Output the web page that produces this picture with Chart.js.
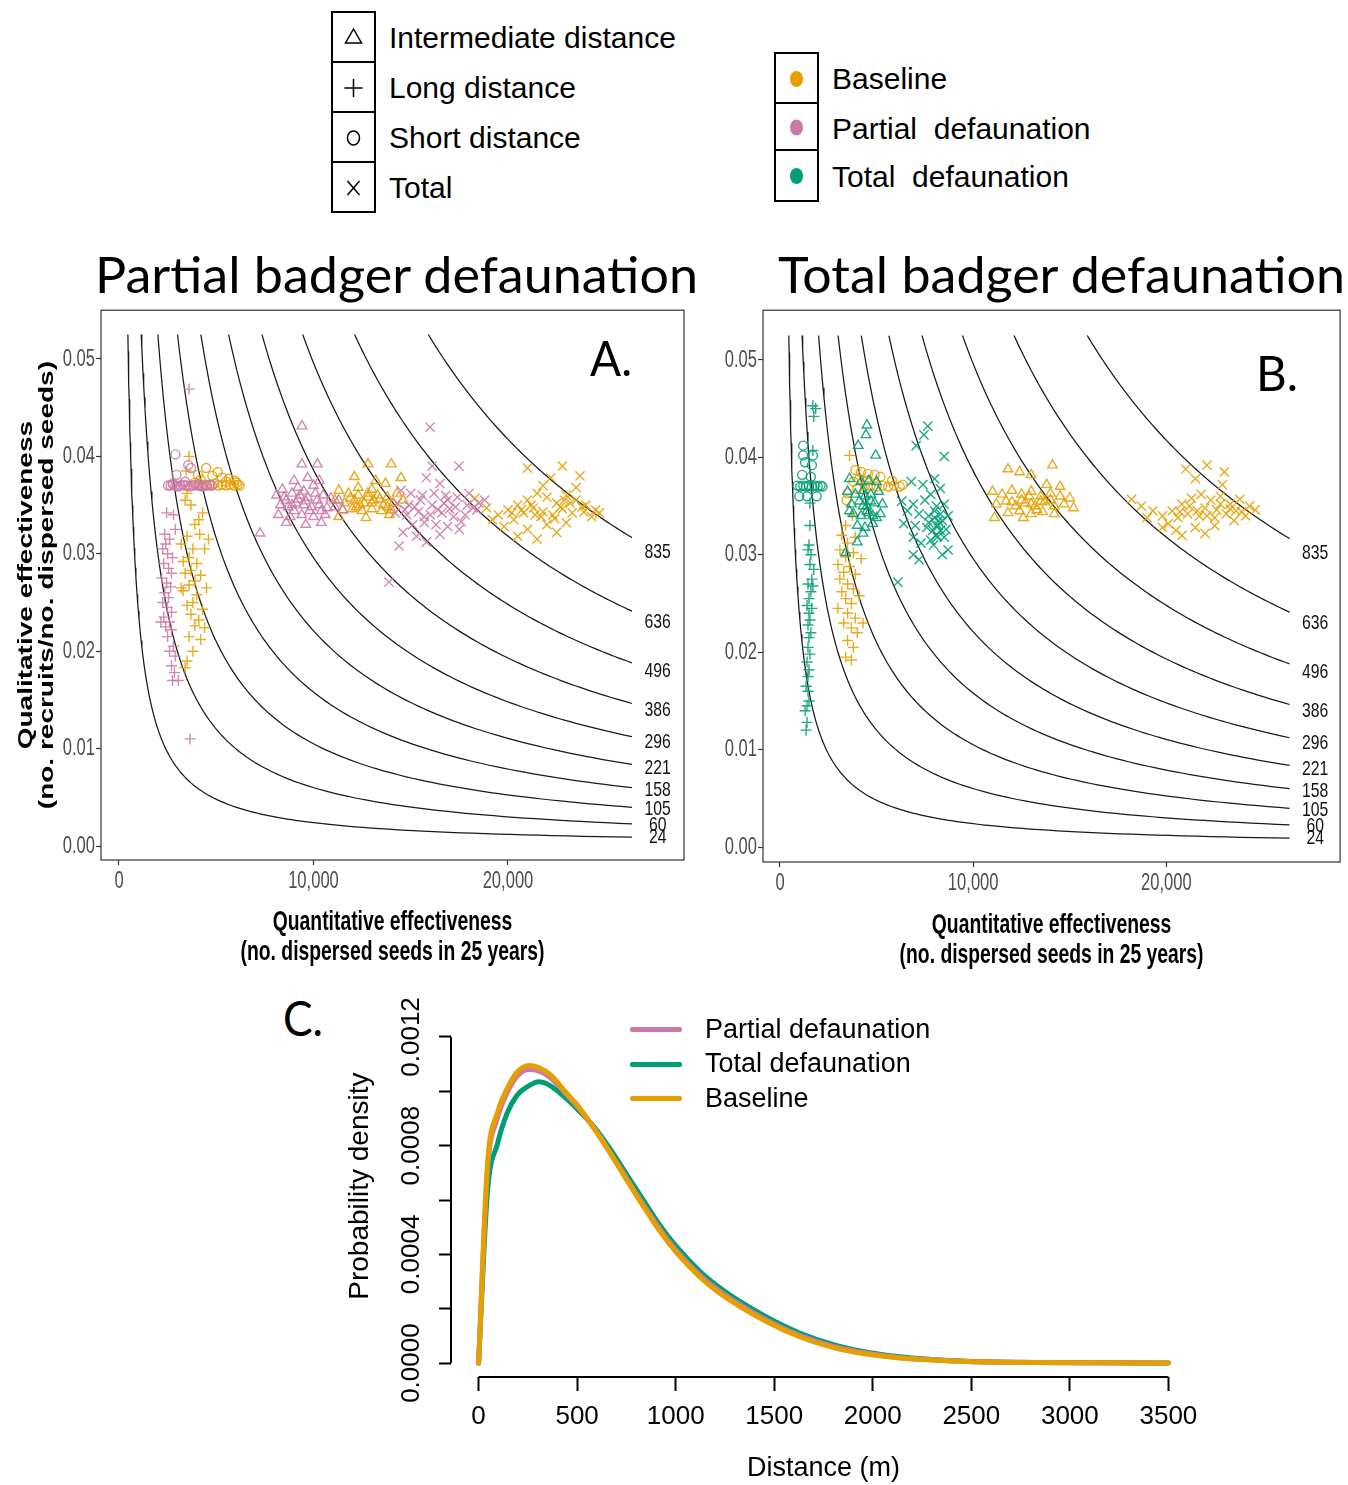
<!DOCTYPE html>
<html>
<head>
<meta charset="utf-8">
<title>Seed dispersal effectiveness under badger defaunation</title>
<script src="https://cdn.jsdelivr.net/npm/chart.js@4.4.1/dist/chart.umd.min.js"></script>
<style>
  html, body { margin: 0; padding: 0; background: #fff; }
  body { width: 1348px; height: 1485px; position: relative; overflow: hidden; font-family: "Liberation Sans", Arial, sans-serif; }
  canvas { position: absolute; }
  .cell { position: absolute; box-sizing: border-box; border: 2px solid #000; width: 45px; z-index: 2; }
  .cell svg { position: absolute; left: 0; top: 0; }
  .txt { position: absolute; white-space: pre; z-index: 2; color: #000; }
  .fit { position: absolute; white-space: pre; z-index: 2; color: #000; font-family: Lato, "Open Sans", sans-serif; display: inline-block; transform-origin: 0 0; line-height: 1; }
  .sw { position: absolute; height: 5px; width: 52px; border-radius: 2px; z-index: 2; }
</style>
</head>
<body>

<!-- distance-class legend -->
<div class="cell" style="left:331px;top:11px;height:52px;"><svg width="41" height="48"><polygon points="20.5,16 28.5,30 12.5,30" fill="none" stroke="#000" stroke-width="1.5"/></svg></div>
<div class="cell" style="left:331px;top:61px;height:52px;"><svg width="41" height="48"><path d="M20.5 16 V34 M11.5 25 H29.5" stroke="#000" stroke-width="1.5"/></svg></div>
<div class="cell" style="left:331px;top:111px;height:52px;"><svg width="41" height="48"><ellipse cx="20.5" cy="25" rx="6" ry="7" fill="none" stroke="#000" stroke-width="1.5"/></svg></div>
<div class="cell" style="left:331px;top:161px;height:52px;"><svg width="41" height="48"><path d="M14.5 18 L26.5 32 M26.5 18 L14.5 32" stroke="#000" stroke-width="1.5"/></svg></div>
<div class="txt" style="left:389px;top:23px;font-size:30px;line-height:30px;">Intermediate distance</div>
<div class="txt" style="left:389px;top:73px;font-size:30px;line-height:30px;">Long distance</div>
<div class="txt" style="left:389px;top:123px;font-size:30px;line-height:30px;">Short distance</div>
<div class="txt" style="left:389px;top:173px;font-size:30px;line-height:30px;">Total</div>

<!-- scenario legend -->
<div class="cell" style="left:774px;top:52px;height:52px;"><svg width="41" height="48"><ellipse cx="20.5" cy="25" rx="6.5" ry="8" fill="#E69F00"/></svg></div>
<div class="cell" style="left:774px;top:102px;height:49px;"><svg width="41" height="45"><ellipse cx="20.5" cy="23.5" rx="6.5" ry="8" fill="#CC79A7"/></svg></div>
<div class="cell" style="left:774px;top:149px;height:53px;"><svg width="41" height="49"><ellipse cx="20.5" cy="25" rx="6.5" ry="8" fill="#009E73"/></svg></div>
<div class="txt" style="left:832px;top:64px;font-size:30px;line-height:30px;">Baseline</div>
<div class="txt" style="left:832px;top:114px;font-size:30px;line-height:30px;">Partial  defaunation</div>
<div class="txt" style="left:832px;top:162px;font-size:30px;line-height:30px;">Total  defaunation</div>

<!-- panel headings and letters -->
<div class="fit" data-w="603" style="left:95px;top:248px;font-size:51px;">Partial badger defaunation</div>
<div class="fit" data-w="567" style="left:778px;top:248px;font-size:51px;">Total badger defaunation</div>
<div class="fit" data-w="42" style="left:590px;top:334px;font-size:48px;">A.</div>
<div class="fit" data-w="42" style="left:1256px;top:349px;font-size:48px;">B.</div>
<div class="fit" data-w="40" style="left:283px;top:994px;font-size:48px;">C.</div>

<!-- density legend -->
<div class="sw" style="left:630px;top:1027px;background:#CC79A7;"></div>
<div class="sw" style="left:630px;top:1062px;background:#009E73;"></div>
<div class="sw" style="left:630px;top:1096px;background:#E69F00;"></div>
<div class="txt" style="left:705px;top:1016px;font-size:27px;line-height:27px;">Partial defaunation</div>
<div class="txt" style="left:705px;top:1050px;font-size:27px;line-height:27px;">Total defaunation</div>
<div class="txt" style="left:705px;top:1085px;font-size:27px;line-height:27px;">Baseline</div>

<canvas id="panelA" width="700" height="680" style="left:0px;top:300px;"></canvas>
<canvas id="panelB" width="648" height="680" style="left:700px;top:300px;"></canvas>
<canvas id="panelC" width="880" height="500" style="left:340px;top:985px;"></canvas>

<script>
// ---------- iso-effectiveness contours (quantity x quality = constant) ----------
const ISO_LEVELS = [24, 60, 105, 158, 221, 296, 386, 496, 636, 835];
const ISO_TOP_Y = 0.0525;     // contours start at this quality value
const ISO_END_X = 26375;      // and stop at this quantity value
const ISO_LABEL_X = 27700;    // labels sit on the contour, just past its end

// ---------- axis ticks and titles ----------
const SDE_X_TICKS = [0, 10000, 20000];
const SDE_Y_TICKS = [0, 0.01, 0.02, 0.03, 0.04, 0.05];
const SDE_X_TITLE = ['Quantitative effectiveness', '(no. dispersed seeds in 25 years)'];
const SDE_Y_TITLE = ['Qualitative effectiveness', '(no. recruits/no. dispersed seeds)'];
const C_X_TICKS = [0, 500, 1000, 1500, 2000, 2500, 3000, 3500];
const C_Y_TICKS = [0, 0.0002, 0.0004, 0.0006, 0.0008, 0.001, 0.0012];
const C_Y_LABELS = [0, 0.0004, 0.0008, 0.0012];

// ---------- panel A: partial badger defaunation, [seeds dispersed, recruits per seed] ----------
const A_PART_SHORT = [[2520,.0370],[2650,.0370],[2780,.0371],[2900,.0370],[3020,.0369],[3150,.0370],[3280,.0371],[3400,.0370],[3520,.0370],[3650,.0369],[3780,.0370],[3900,.0371],[4020,.0370],[4150,.0370],[4280,.0369],[4400,.0370],[4520,.0370],[4650,.0371],[4780,.0370],[2900,.0402],[2960,.0381],[3560,.0391],[3700,.0388],[3400,.0374],[2760,.0372]];
const A_PART_LONG = [[2450,.0342],[2800,.0340],[2350,.0320],[2600,.0315],[2250,.0305],[2500,.0300],[2750,.0296],[2300,.0290],[2550,.0285],[2700,.0280],[2200,.0275],[2450,.0270],[2650,.0266],[2350,.0260],[2550,.0255],[2250,.0250],[2480,.0245],[2700,.0240],[2300,.0235],[2600,.0230],[2150,.0230],[2400,.0225],[2700,.0222],[2500,.0215],[2800,.0205],[2600,.0200],[2900,.0195],[2700,.0185],[2850,.0178],[2750,.0170],[3050,.0170],[3600,.0469],[3650,.0110],[2900,.0325],[2400,.0310]];
const A_PART_INTER = [[9410,.0431],[7250,.0321],[10200,.0392],[9400,.0392],[9000,.0375],[9700,.0378],[10300,.0375],[8100,.0360],[8500,.0358],[8900,.0362],[9300,.0360],[9700,.0358],[10100,.0362],[10500,.0360],[10900,.0357],[11300,.0355],[8300,.0350],[8700,.0348],[9100,.0352],[9500,.0350],[9900,.0348],[10300,.0350],[10700,.0347],[11100,.0348],[8200,.0340],[8800,.0338],[9400,.0340],[10000,.0338],[10600,.0340],[11500,.0345],[8600,.0332],[9600,.0330],[10400,.0332],[9200,.0368],[10000,.0370],[8400,.0366],[9800,.0344],[9000,.0344],[9200,.0356],[9600,.0354],[10200,.0355],[8900,.0350],[9500,.0364],[10400,.0344],[8600,.0355]];
const A_PART_TOTAL = [[15990,.0430],[13880,.0271],[17480,.0390],[16100,.0390],[15800,.0378],[16500,.0372],[14500,.0365],[15000,.0362],[15600,.0360],[16200,.0362],[16800,.0360],[17400,.0358],[18000,.0362],[14300,.0352],[14900,.0350],[15500,.0355],[16100,.0350],[16700,.0352],[17300,.0348],[17900,.0350],[18500,.0352],[14200,.0342],[14800,.0340],[15400,.0343],[16000,.0340],[16600,.0342],[17200,.0338],[17800,.0340],[18400,.0345],[15100,.0330],[15700,.0332],[16300,.0330],[16900,.0328],[14600,.0322],[15300,.0318],[16500,.0320],[17500,.0325],[15800,.0312],[14400,.0308],[18800,.0355],[15200,.0348],[16400,.0345],[17000,.0346],[15700,.0338],[16900,.0355],[17600,.0333],[18200,.0347],[14700,.0345]];
const A_BASE_SHORT = [[4100,.0372],[4300,.0370],[4500,.0371],[4700,.0370],[4900,.0372],[5100,.0370],[5300,.0371],[5500,.0370],[5700,.0371],[5900,.0370],[6100,.0371],[6200,.0370],[4480,.0388],[4060,.0381],[5080,.0384],[5650,.0377],[4800,.0380],[5300,.0378],[4200,.0376],[5950,.0375],[5500,.0374],[3900,.0373],[6050,.0373]];
const A_BASE_LONG = [[3600,.0400],[3450,.0385],[3500,.0362],[3400,.0355],[3700,.0350],[4300,.0342],[4100,.0335],[3900,.0330],[4600,.0315],[3500,.0318],[3200,.0310],[3800,.0305],[4400,.0305],[3600,.0296],[3300,.0292],[4000,.0290],[3700,.0283],[3400,.0280],[4200,.0278],[3900,.0272],[3600,.0268],[4500,.0265],[3300,.0262],[4000,.0258],[3800,.0250],[3500,.0247],[4300,.0243],[3700,.0238],[4100,.0232],[3900,.0226],[4400,.0224],[3600,.0215],[4200,.0212],[3800,.0200],[3500,.0190],[3400,.0183],[3200,.0265],[4150,.0320]];
const A_BASE_INTER = [[14000,.0392],[12800,.0392],[12100,.0379],[14500,.0378],[13200,.0375],[13700,.0372],[11300,.0365],[11800,.0362],[12300,.0360],[12800,.0362],[13300,.0360],[13800,.0358],[14300,.0362],[11100,.0355],[11600,.0352],[12100,.0355],[12600,.0352],[13100,.0355],[13600,.0350],[14100,.0352],[14600,.0355],[11500,.0345],[12000,.0346],[12500,.0344],[13000,.0346],[13500,.0344],[14000,.0345],[11300,.0338],[12700,.0337],[13900,.0340],[12300,.0368],[13000,.0366],[12400,.0350],[13000,.0352],[13400,.0356],[12200,.0348],[12800,.0358],[13800,.0348],[11900,.0357]];
const A_BASE_TOTAL = [[22800,.0390],[21000,.0388],[23700,.0380],[22200,.0378],[18300,.0357],[18900,.0347],[19500,.0340],[20000,.0345],[20500,.0350],[21000,.0355],[21500,.0362],[22000,.0358],[22500,.0352],[23000,.0360],[23500,.0355],[24000,.0350],[24500,.0345],[20300,.0335],[20800,.0342],[21300,.0347],[21800,.0343],[22300,.0340],[22800,.0346],[23300,.0342],[23800,.0348],[24300,.0338],[19800,.0328],[21000,.0325],[22000,.0330],[23000,.0332],[20500,.0318],[22500,.0322],[21500,.0315],[24700,.0342],[23500,.0368],[21800,.0370],[19200,.0335],[21200,.0350],[22700,.0348],[23200,.0352],[21700,.0338],[20700,.0345],[22400,.0336],[23900,.0343],[21400,.0340],[22900,.0355],[20200,.0342]];

// ---------- panel B: total badger defaunation ----------
const B_TOT_SHORT = [[900,.0371],[1050,.0370],[1200,.0371],[1350,.0370],[1500,.0371],[1650,.0370],[1800,.0371],[1950,.0370],[2100,.0371],[2200,.0370],[1200,.0412],[1200,.0402],[1650,.0392],[1300,.0395],[1700,.0402],[1000,.0360],[1400,.0360],[1900,.0360],[1600,.0380],[1150,.0382]];
const B_TOT_LONG = [[1700,.0453],[1850,.0450],[1750,.0442],[1700,.0407],[1550,.0353],[1550,.0330],[1500,.0310],[1450,.0305],[1600,.0300],[1550,.0290],[1750,.0285],[1650,.0275],[1450,.0270],[1600,.0262],[1500,.0255],[1400,.0248],[1650,.0245],[1500,.0240],[1550,.0233],[1450,.0228],[1600,.0220],[1500,.0215],[1450,.0205],[1550,.0198],[1400,.0190],[1500,.0182],[1450,.0175],[1350,.0165],[1450,.0160],[1500,.0150],[1400,.0145],[1300,.0140],[1350,.0120],[1400,.0128],[1700,.0268]];
const B_TOT_INTER = [[4500,.0433],[4450,.0423],[4050,.0412],[4950,.0402],[3600,.0378],[4200,.0375],[4600,.0376],[5000,.0375],[3500,.0365],[3900,.0362],[4300,.0366],[4700,.0362],[5100,.0365],[3700,.0352],[4100,.0355],[4500,.0350],[4900,.0353],[5300,.0352],[3800,.0342],[4200,.0340],[4600,.0343],[5000,.0338],[4000,.0330],[4400,.0328],[4800,.0332],[4300,.0322],[4000,.0313],[3400,.0302],[3600,.0345],[5200,.0342],[4400,.0360],[4700,.0355],[4500,.0345],[4300,.0350],[4800,.0340]];
const B_TOT_TOTAL = [[7650,.0432],[7450,.0423],[7050,.0412],[8500,.0401],[6800,.0375],[7400,.0372],[8000,.0378],[8300,.0368],[6300,.0355],[6900,.0352],[7500,.0356],[7800,.0362],[8100,.0350],[8500,.0352],[6600,.0345],[7200,.0342],[7700,.0340],[8000,.0338],[8300,.0342],[8700,.0340],[6400,.0332],[7000,.0330],[7600,.0328],[7900,.0325],[8200,.0330],[8600,.0326],[6900,.0318],[7300,.0312],[7800,.0315],[8100,.0320],[8500,.0318],[8700,.0305],[6900,.0300],[7200,.0295],[8400,.0300],[6100,.0272],[8200,.0335],[7950,.0310],[8100,.0330],[8300,.0325],[8000,.0345],[7700,.0333],[8400,.0335],[8150,.0318]];
const B_BASE_SHORT = [[3900,.0387],[4200,.0385],[4550,.0383],[4900,.0382],[5200,.0380],[4100,.0378],[4500,.0376],[3800,.0375],[4400,.0371],[4700,.0371],[5000,.0370],[5300,.0371],[5600,.0370],[5900,.0371],[6200,.0370],[6350,.0372],[3500,.0363],[3450,.0356],[4000,.0368],[5800,.0376]];
const B_BASE_LONG = [[3600,.0402],[3400,.0330],[3750,.0340],[3200,.0320],[3900,.0318],[3500,.0312],[3100,.0305],[3800,.0302],[3400,.0298],[4200,.0296],[3000,.0290],[3600,.0288],[3300,.0282],[3900,.0280],[3100,.0275],[3500,.0270],[3800,.0265],[3200,.0262],[4100,.0258],[3400,.0255],[3700,.0250],[3000,.0245],[3500,.0240],[3900,.0235],[3300,.0230],[3700,.0225],[4000,.0220],[3500,.0212],[3800,.0205],[3400,.0195],[3700,.0192],[4300,.0230]];
const B_BASE_INTER = [[14100,.0392],[12400,.0385],[11800,.0388],[13000,.0382],[11000,.0365],[11500,.0362],[12000,.0366],[12500,.0362],[13000,.0365],[13500,.0360],[14000,.0363],[14500,.0360],[15000,.0358],[11200,.0352],[11700,.0355],[12200,.0350],[12700,.0353],[13200,.0350],[13700,.0354],[14200,.0350],[14700,.0352],[15200,.0348],[11800,.0343],[12400,.0345],[13000,.0342],[13600,.0344],[14200,.0342],[11100,.0338],[12600,.0338],[14500,.0370],[13800,.0372],[12500,.0356],[13000,.0352],[13500,.0355],[12900,.0360],[13300,.0346],[12000,.0354],[14000,.0356]];
const B_BASE_TOTAL = [[22100,.0392],[21000,.0388],[23000,.0385],[21500,.0378],[18200,.0357],[18700,.0350],[19300,.0345],[19800,.0340],[20300,.0345],[20800,.0352],[21300,.0358],[21800,.0362],[22300,.0356],[22800,.0360],[23300,.0352],[23800,.0357],[24300,.0350],[20100,.0332],[20600,.0338],[21100,.0342],[21600,.0345],[22100,.0340],[22600,.0346],[23100,.0342],[23600,.0345],[24100,.0340],[24600,.0346],[19800,.0328],[20500,.0325],[21500,.0328],[22500,.0330],[23500,.0335],[20800,.0320],[22000,.0322],[19000,.0338],[22900,.0372],[21200,.0350],[22000,.0348],[22800,.0352],[21700,.0340],[23300,.0347],[20700,.0344],[22500,.0338],[23900,.0344]];

// ---------- panel C: dispersal distance kernels ----------
const C_DIST = [0,45,95,145,195,255,305,365,450,500,585,670,755,840,925,1000,1125,1200,1295,1465,1635,1800,1970,2140,2300,2480,2815,3150,3500];
const C_BASELINE = [0,0.00073,0.00092,0.00101,0.00107,0.001095,0.001087,0.00106,0.00099,0.00095,0.000864,0.00077,0.00067,0.000572,0.00048,0.00041,0.000315,0.00027,0.0002225,0.000151,0.000095,0.000057,0.0000332,0.0000188,0.000011,0.0000055,0.000002,0.0000008,0.0000003];
const C_PARTIAL = [0,0.00071,0.0009,0.000995,0.001055,0.00108,0.001075,0.00105,0.000985,0.000945,0.000866,0.000772,0.000675,0.000578,0.000487,0.000417,0.000322,0.000277,0.000229,0.000157,0.0001,0.000061,0.000036,0.00002,0.000012,0.000006,0.0000022,0.0000009,0.0000003];
const C_TOTAL = [0,0.00063,0.000805,0.00092,0.000985,0.00102,0.001035,0.00102,0.00097,0.000935,0.00087,0.000785,0.00069,0.000595,0.000502,0.000432,0.000336,0.00029,0.000241,0.000168,0.000109,0.000068,0.00004,0.000023,0.000013,0.0000068,0.0000025,0.000001,0.0000004];

// ---------- styling ----------
const ORANGE = 'rgba(230,159,0,0.88)';
const PINK = 'rgba(204,121,167,0.88)';
const GREEN = 'rgba(0,158,115,0.88)';
const SANS = '"Liberation Sans", Arial, sans-serif';
const SQUEEZE = 0.69;   // the SDE panels use compressed lettering
const MARKERS = {
  short: { style: 'circle', r: 4.5 },
  long:  { style: 'cross', r: 5.5 },
  inter: { style: 'triangle', r: 5.5 },
  total: { style: 'crossRot', r: 6.5 }
};

function toPoints(pairs) { return pairs.map(([x, y]) => ({ x, y })); }

function markerSet(pairs, color, kind) {
  const m = MARKERS[kind];
  return {
    data: toPoints(pairs),
    pointStyle: m.style,
    pointRadius: m.r,
    pointBorderColor: color,
    pointBackgroundColor: 'rgba(0,0,0,0)',
    pointBorderWidth: 1.4,
    showLine: false,
    order: 0
  };
}

function isoCurve(c) {
  const x0 = c / ISO_TOP_Y;
  const pts = [];
  const n = 120;
  for (let i = 0; i <= n; i++) {
    const x = x0 * Math.pow(ISO_END_X / x0, i / n);
    pts.push({ x, y: c / x });
  }
  return {
    data: pts, showLine: true, pointRadius: 0, borderColor: '#1a1a1a',
    borderWidth: 1.25, tension: 0, order: 1
  };
}

// text drawn with a horizontal squeeze (and optional rotation)
function squeezed(ctx, text, x, y, o) {
  ctx.save();
  ctx.translate(x, y);
  if (o.rotate) ctx.rotate(o.rotate);
  if (o.rotate) ctx.scale(1, o.sx); else ctx.scale(o.sx, 1);
  ctx.font = o.font;
  ctx.fillStyle = o.color;
  ctx.textAlign = o.align || 'center';
  ctx.textBaseline = 'middle';
  ctx.fillText(text, 0, 0);
  ctx.restore();
}

// frame, contour labels, tick labels and axis titles of the SDE panels
const sdeDecor = {
  id: 'sdeDecor',
  afterDraw(chart, args, opts) {
    const { ctx, chartArea: a, scales: { x, y } } = chart;
    ctx.save();
    ctx.strokeStyle = '#333';
    ctx.lineWidth = 1.2;
    ctx.strokeRect(a.left, a.top, a.right - a.left, a.bottom - a.top);
    ctx.restore();

    ISO_LEVELS.forEach(c => {
      squeezed(ctx, String(c), x.getPixelForValue(ISO_LABEL_X), y.getPixelForValue(c / ISO_LABEL_X),
               { font: '21px ' + SANS, color: '#111', sx: 0.75 });
    });
    SDE_X_TICKS.forEach(v => {
      squeezed(ctx, v.toLocaleString('en-US'), x.getPixelForValue(v), a.bottom + 21,
               { font: '24px ' + SANS, color: '#4d4d4d', sx: SQUEEZE });
    });
    SDE_Y_TICKS.forEach(v => {
      squeezed(ctx, v.toFixed(2), a.left - 6, y.getPixelForValue(v),
               { font: '24px ' + SANS, color: '#4d4d4d', sx: SQUEEZE, align: 'right' });
    });
    const cx = (a.left + a.right) / 2;
    SDE_X_TITLE.forEach((t, i) => {
      squeezed(ctx, t, cx, a.bottom + opts.xTitleY + i * 30,
               { font: 'bold 28px ' + SANS, color: '#000', sx: SQUEEZE });
    });
    if (opts.yTitle) {
      const cy = (a.top + a.bottom) / 2;
      SDE_Y_TITLE.forEach((t, i) => {
        squeezed(ctx, t, 26 + i * 21, cy,
                 { font: 'bold 28px ' + SANS, color: '#000', sx: 0.72, rotate: -Math.PI / 2 });
      });
    }
  }
};

function sdeChart(id, scatterSets, opt) {
  const datasets = scatterSets.concat(ISO_LEVELS.map(isoCurve));
  return new Chart(document.getElementById(id), {
    type: 'scatter',
    data: { datasets },
    options: {
      responsive: false, animation: false, events: [],
      layout: { padding: opt.padding },
      plugins: {
        legend: { display: false }, tooltip: { enabled: false },
        sdeDecor: { xTitleY: opt.xTitleY, yTitle: opt.yTitle }
      },
      scales: {
        x: {
          type: 'linear', min: opt.xMin, max: opt.xMax,
          afterBuildTicks: s => { s.ticks = SDE_X_TICKS.map(v => ({ value: v })); },
          afterFit: s => { s.height = opt.xHeight; },
          border: { display: false },
          grid: { drawOnChartArea: false, drawTicks: true, tickLength: 5, tickColor: '#333', tickWidth: 1.2 },
          ticks: { callback: () => '' }
        },
        y: {
          type: 'linear', min: opt.yMin, max: opt.yMax,
          afterBuildTicks: s => { s.ticks = SDE_Y_TICKS.map(v => ({ value: v })); },
          afterFit: s => { s.width = opt.yWidth; },
          border: { display: false },
          grid: { drawOnChartArea: false, drawTicks: true, tickLength: 5, tickColor: '#333', tickWidth: 1.2 },
          ticks: { callback: () => '' }
        }
      }
    },
    plugins: [sdeDecor]
  });
}

sdeChart('panelA', [
  markerSet(A_PART_SHORT, PINK, 'short'),
  markerSet(A_PART_LONG, PINK, 'long'),
  markerSet(A_PART_INTER, PINK, 'inter'),
  markerSet(A_PART_TOTAL, PINK, 'total'),
  markerSet(A_BASE_SHORT, ORANGE, 'short'),
  markerSet(A_BASE_LONG, ORANGE, 'long'),
  markerSet(A_BASE_INTER, ORANGE, 'inter'),
  markerSet(A_BASE_TOTAL, ORANGE, 'total')
], { padding: { left: 0, right: 16, top: 8, bottom: 0 }, xMin: -925, xMax: 29050, yMin: -0.00143, yMax: 0.055,
     xHeight: 120, yWidth: 101, xTitleY: 62, yTitle: true });

sdeChart('panelB', [
  markerSet(B_TOT_SHORT, GREEN, 'short'),
  markerSet(B_TOT_LONG, GREEN, 'long'),
  markerSet(B_TOT_INTER, GREEN, 'inter'),
  markerSet(B_TOT_TOTAL, GREEN, 'total'),
  markerSet(B_BASE_SHORT, ORANGE, 'short'),
  markerSet(B_BASE_LONG, ORANGE, 'long'),
  markerSet(B_BASE_INTER, ORANGE, 'inter'),
  markerSet(B_BASE_TOTAL, ORANGE, 'total')
], { padding: { left: 0, right: 7, top: 6, bottom: 0 }, xMin: -879, xMax: 28992, yMin: -0.00153, yMax: 0.0551,
     xHeight: 118, yWidth: 63, xTitleY: 63, yTitle: false });

// base-graphics style axes: lines span only the tick range, vertical tick labels
const kernelAxes = {
  id: 'kernelAxes',
  afterDraw(chart) {
    const { ctx, chartArea: a, scales: { x, y } } = chart;
    ctx.save();
    ctx.strokeStyle = '#000';
    ctx.lineWidth = 2;
    ctx.beginPath();
    ctx.moveTo(x.getPixelForValue(C_X_TICKS[0]), a.bottom);
    ctx.lineTo(x.getPixelForValue(C_X_TICKS[C_X_TICKS.length - 1]), a.bottom);
    ctx.moveTo(a.left, y.getPixelForValue(C_Y_TICKS[0]));
    ctx.lineTo(a.left, y.getPixelForValue(C_Y_TICKS[C_Y_TICKS.length - 1]));
    ctx.stroke();
    ctx.fillStyle = '#000';
    ctx.font = '26px ' + SANS;
    ctx.textAlign = 'center';
    ctx.textBaseline = 'middle';
    C_Y_LABELS.forEach(v => {
      ctx.save();
      ctx.translate(a.left - 39, y.getPixelForValue(v));
      ctx.rotate(-Math.PI / 2);
      ctx.fillText(v.toFixed(4), 0, 0);
      ctx.restore();
    });
    ctx.restore();
  }
};

function kernel(values, color) {
  return {
    data: C_DIST.map((d, i) => ({ x: d, y: values[i] })),
    borderColor: color, borderWidth: 5, pointRadius: 0, showLine: true,
    cubicInterpolationMode: 'monotone', borderCapStyle: 'round', borderJoinStyle: 'round'
  };
}

new Chart(document.getElementById('panelC'), {
  type: 'scatter',
  data: { datasets: [
    kernel(C_BASELINE, '#E69F00'),
    kernel(C_PARTIAL, '#CC79A7'),
    kernel(C_TOTAL, '#009E73')
  ] },
  options: {
    responsive: false, animation: false, events: [],
    layout: { padding: { left: 0, right: 24, top: 8, bottom: 0 } },
    plugins: { legend: { display: false }, tooltip: { enabled: false } },
    scales: {
      x: {
        type: 'linear', min: -140, max: 3640,
        afterBuildTicks: s => { s.ticks = C_X_TICKS.map(v => ({ value: v })); },
        afterFit: s => { s.height = 108; },
        border: { display: false },
        grid: { drawOnChartArea: false, drawTicks: true, tickLength: 14, tickColor: '#000', tickWidth: 2 },
        ticks: { color: '#000', font: { family: SANS, size: 26 }, padding: 10, maxRotation: 0, callback: v => String(v) },
        title: { display: true, text: 'Distance (m)', color: '#000', font: { family: SANS, size: 27 }, padding: { top: 0, bottom: 0 } }
      },
      y: {
        type: 'linear', min: -0.0000512, max: 0.0013536,
        afterBuildTicks: s => { s.ticks = C_Y_TICKS.map(v => ({ value: v })); },
        afterFit: s => { s.width = 111; },
        border: { display: false },
        grid: { drawOnChartArea: false, drawTicks: true, tickLength: 12, tickColor: '#000', tickWidth: 2 },
        ticks: { callback: () => '' },
        title: { display: true, text: 'Probability density', color: '#000', font: { family: SANS, size: 28 }, padding: { top: 3, bottom: 0 } }
      }
    }
  },
  plugins: [kernelAxes]
});

// headings: squeeze to the set width
function fitHeadings() {
  document.querySelectorAll('.fit').forEach(el => {
    el.style.transform = 'none';
    const w = el.getBoundingClientRect().width;
    el.style.transform = 'scaleX(' + (Number(el.dataset.w) / w) + ')';
  });
}
fitHeadings();
if (document.fonts && document.fonts.ready) document.fonts.ready.then(fitHeadings);
</script>
</body>
</html>
